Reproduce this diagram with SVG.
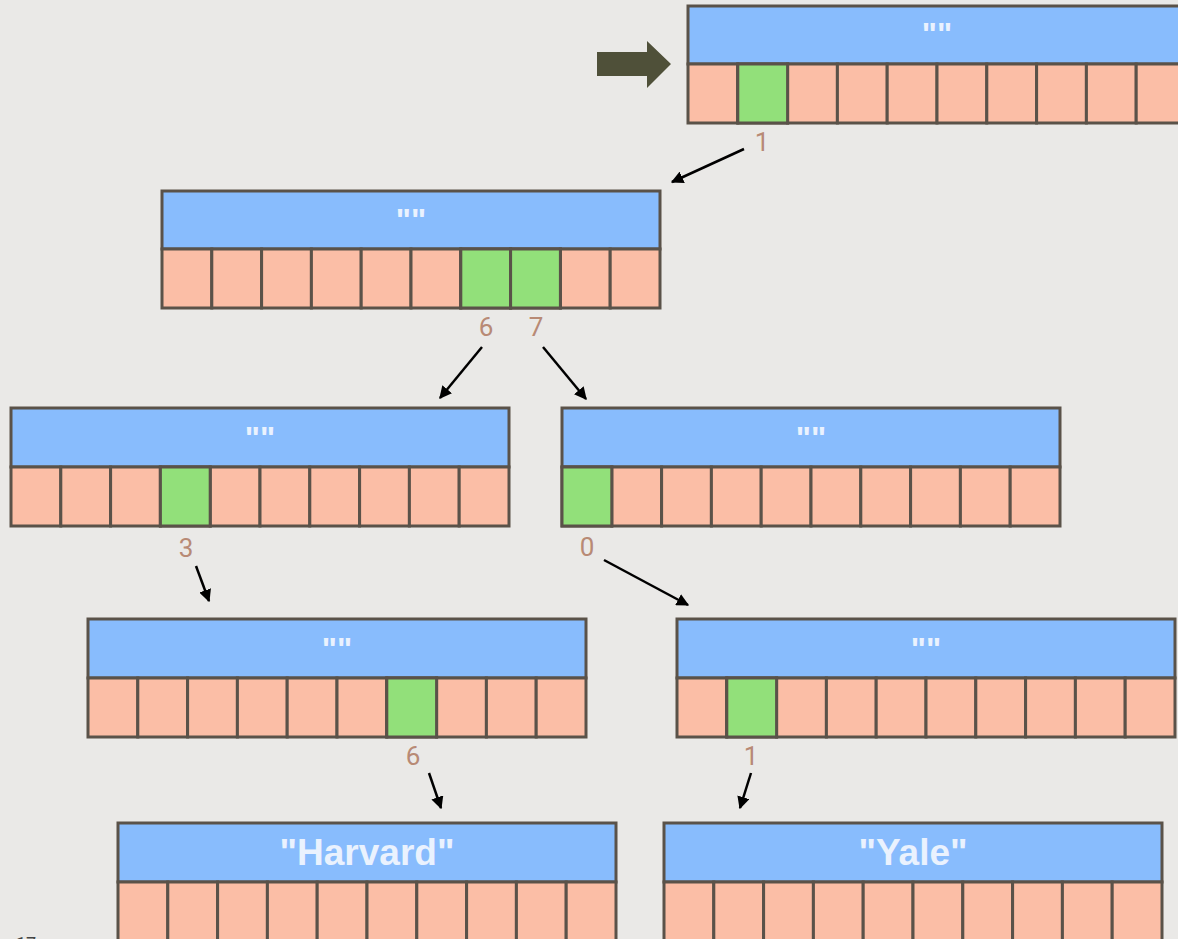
<svg xmlns="http://www.w3.org/2000/svg" width="1178" height="939" viewBox="0 0 1178 939">
<defs>
<style>
.hd{fill:#88bcfd;stroke:#5a5249;stroke-width:3}
.c{fill:#fbbea6;stroke:#5a5249;stroke-width:3}
.g{fill:#92e07a;stroke:#5a5249;stroke-width:3}
.ht{font-family:"Liberation Sans",Arial,sans-serif;font-weight:bold;fill:#eaf2fe;text-anchor:middle}
.e{font-size:32px}
.big{font-size:37px}
.idx{font-family:Roboto,"Liberation Sans",sans-serif;font-size:26px;fill:#b88a75;text-anchor:middle}
.con{stroke:#000;stroke-width:2.5;fill:none;marker-end:url(#ah)}
</style>
<marker id="ah" viewBox="0 0 10 10" refX="9" refY="5" markerWidth="5" markerHeight="5" orient="auto" markerUnits="strokeWidth">
<path d="M0,0 L10,5 L0,10 z" fill="#000"/>
</marker>
<g id="cells">
<rect class="c" x="0" y="0" width="49.8" height="59"/>
<rect class="c" x="49.8" y="0" width="49.8" height="59"/>
<rect class="c" x="99.6" y="0" width="49.8" height="59"/>
<rect class="c" x="149.4" y="0" width="49.8" height="59"/>
<rect class="c" x="199.2" y="0" width="49.8" height="59"/>
<rect class="c" x="249" y="0" width="49.8" height="59"/>
<rect class="c" x="298.8" y="0" width="49.8" height="59"/>
<rect class="c" x="348.6" y="0" width="49.8" height="59"/>
<rect class="c" x="398.4" y="0" width="49.8" height="59"/>
<rect class="c" x="448.2" y="0" width="49.8" height="59"/>
</g>
</defs>
<rect width="1178" height="939" fill="#eae9e7"/>

<path d="M597,52 H647 V41 L671,64 L647,88 V76 H597 Z" fill="#4f5039"/>

<g id="node1">
<rect class="hd" x="688" y="6" width="498" height="58"/>
<use href="#cells" x="688" y="64"/>
<rect class="g" x="737.8" y="64" width="49.8" height="59"/>
<text class="ht e" x="937" y="45">""</text>
</g>

<g id="node2">
<rect class="hd" x="162" y="191" width="498" height="58"/>
<use href="#cells" x="162" y="249"/>
<rect class="g" x="460.8" y="249" width="49.8" height="59"/>
<rect class="g" x="510.6" y="249" width="49.8" height="59"/>
<text class="ht e" x="411" y="231">""</text>
</g>

<g id="node3">
<rect class="hd" x="11" y="408" width="498" height="59"/>
<use href="#cells" x="11" y="467"/>
<rect class="g" x="160.4" y="467" width="49.8" height="59"/>
<text class="ht e" x="260" y="449">""</text>
</g>

<g id="node4">
<rect class="hd" x="562" y="408" width="498" height="59"/>
<use href="#cells" x="562" y="467"/>
<rect class="g" x="562" y="467" width="49.8" height="59"/>
<text class="ht e" x="811" y="449">""</text>
</g>

<g id="node5">
<rect class="hd" x="88" y="619" width="498" height="59"/>
<use href="#cells" x="88" y="678"/>
<rect class="g" x="386.8" y="678" width="49.8" height="59"/>
<text class="ht e" x="337" y="660">""</text>
</g>

<g id="node6">
<rect class="hd" x="677" y="619" width="498" height="59"/>
<use href="#cells" x="677" y="678"/>
<rect class="g" x="726.8" y="678" width="49.8" height="59"/>
<text class="ht e" x="926" y="660">""</text>
</g>

<g id="node7">
<rect class="hd" x="118" y="823" width="498" height="59"/>
<use href="#cells" x="118" y="882"/>
<text class="ht big" x="367" y="865">"Harvard"</text>
</g>

<g id="node8">
<rect class="hd" x="664" y="823" width="498" height="59"/>
<use href="#cells" x="664" y="882"/>
<text class="ht big" x="913" y="865">"Yale"</text>
</g>

<g id="labels">
<text class="idx" x="762" y="151">1</text>
<text class="idx" x="486" y="336">6</text>
<text class="idx" x="536" y="336">7</text>
<text class="idx" x="186" y="557">3</text>
<text class="idx" x="587" y="556">0</text>
<text class="idx" x="413" y="765">6</text>
<text class="idx" x="751" y="765">1</text>
</g>

<g id="connectors">
<line class="con" x1="744" y1="149" x2="672" y2="182"/>
<line class="con" x1="482" y1="347" x2="440" y2="398"/>
<line class="con" x1="543" y1="347" x2="586" y2="399"/>
<line class="con" x1="196" y1="566" x2="209" y2="601"/>
<line class="con" x1="604" y1="560" x2="688" y2="605"/>
<line class="con" x1="429" y1="773" x2="441" y2="808"/>
<line class="con" x1="751" y1="773" x2="740" y2="808"/>
</g>

<text x="16" y="950" font-family="Roboto,'Liberation Sans',sans-serif" font-size="18" fill="#444">17</text>
</svg>
